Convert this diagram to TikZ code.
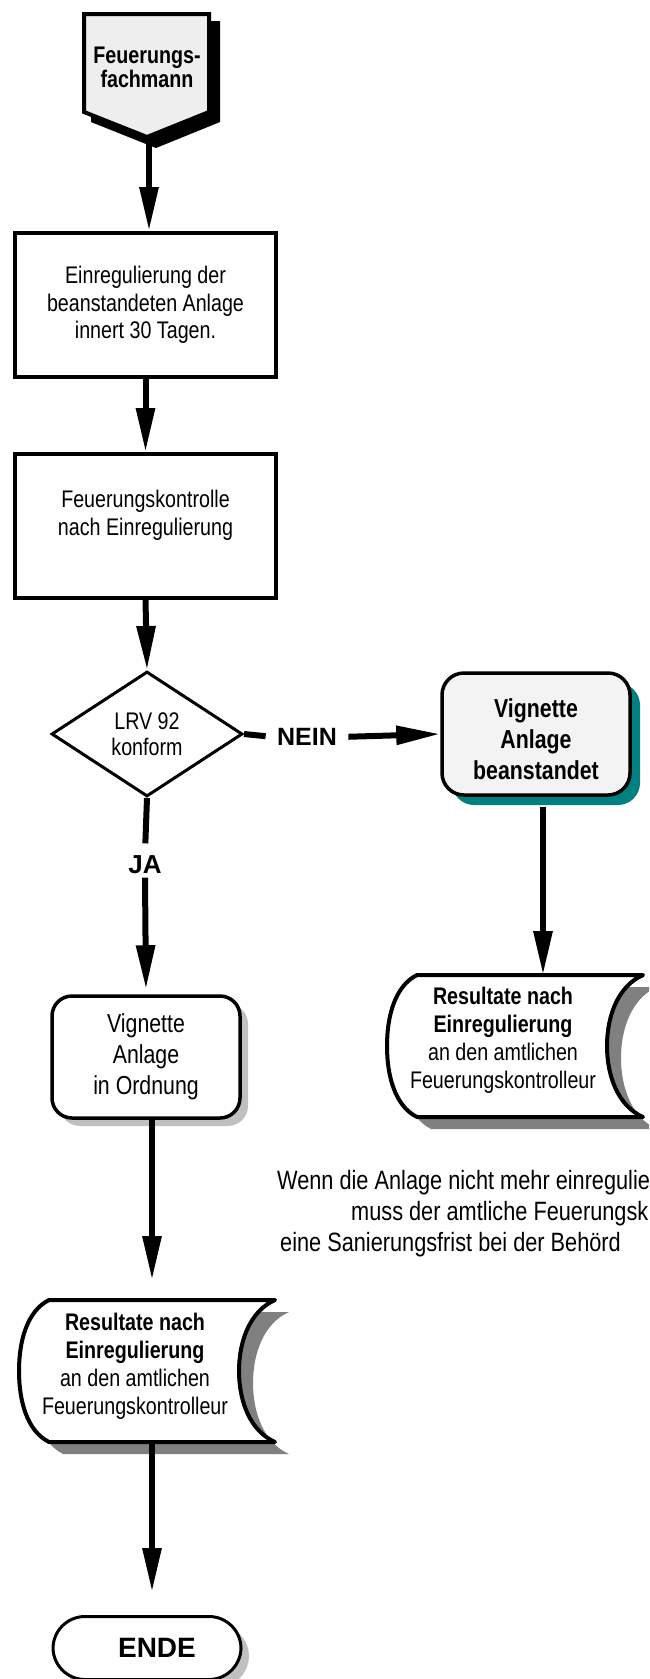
\documentclass[tikz,border=0pt]{standalone}
\usepackage{fontspec}
\setmainfont{Liberation Sans}[FakeStretch=0.82]
\newfontfamily\widefont{Liberation Sans}
\usetikzlibrary{arrows.meta,shapes.geometric,shadows,calc}
\definecolor{tealsh}{HTML}{008080}
\definecolor{beanfill}{HTML}{F3F3F3}
\definecolor{fachfill}{HTML}{EEEEEE}
\definecolor{ltgray}{HTML}{C0C0C0}
\definecolor{midgray}{HTML}{808080}
\newcommand\storedpath{(-113,-71) -- (113,-71) .. controls (88,-60) and (77,-30) .. (77,0) .. controls (77,30) and (88,60) .. (113,71) -- (-113,71) .. controls (-135,60) and (-143,30) .. (-143,0) .. controls (-143,-30) and (-135,-60) .. (-113,-71) -- cycle}
\tikzset{
  pics/stored/.style={code={
    \begin{scope}[shift={(14,12)}]
      \fill[midgray] \storedpath;
    \end{scope}
    \draw[line width=4pt, fill=white, line join=round] \storedpath;
  }},
  boxnode/.style={draw, line width=4pt, fill=white, minimum width=261pt, minimum height=144pt, inner sep=0pt, align=center},
  txt/.style={font=\fontsize{24}{27.5}\selectfont, align=center},
  arr/.style={line width=6pt, -{Triangle[length=44pt,width=18pt]}},
  stub/.style={line width=6pt},
}
\begin{document}
\begin{tikzpicture}[x=1pt,y=-1pt]
\useasboundingbox (0,0) rectangle (649,1679);
\clip (0,0) rectangle (649,1679);

% start pentagon
\fill[black] (91,21) -- (220,21) -- (220,122) -- (156,148) -- (91,122) -- cycle;
\draw[line width=4pt, fill=fachfill, line join=miter] (84,14) -- (209,14) -- (209,112) -- (147,137) -- (84,112) -- cycle;
\node[font=\bfseries\fontsize{24}{24}\selectfont, align=center] (fach) at (147,67) {Feuerungs-\\fachmann};
\coordinate (fachtip) at (149,139);

% boxes
\node[boxnode, txt] (b1) at (145.5,305) {Einregulierung der\\beanstandeten Anlage\\innert 30 Tagen.};
\node[boxnode] (b2) at (145.5,526) {};
\node[txt, font=\fontsize{24}{28}\selectfont] (b2t) at (145.5,515) {Feuerungskontrolle\\nach Einregulierung};

% decision
\node[diamond, draw, line width=3pt, fill=white, minimum width=191pt, minimum height=125pt, inner sep=0pt, align=center, font=\fontsize{24}{26}\selectfont] (d) at (147,734) {LRV 92\\konform};

\node[font=\widefont\bfseries\fontsize{25}{30}\selectfont] (nein) at (307,737) {NEIN};

\node[draw, line width=3.5pt, rounded corners=22pt, fill=beanfill, minimum width=188pt, minimum height=122pt, inner sep=0pt, drop shadow={shadow xshift=10pt, shadow yshift=-10pt, fill=tealsh, opacity=1}] (bean) at (536,734) {};
\node[align=center, font=\bfseries\fontsize{26}{31}\selectfont] (beant) at (536,739) {Vignette\\Anlage\\beanstandet};

\node[font=\widefont\bfseries\fontsize{26}{30}\selectfont] (ja) at (145,865) {JA};

\node[draw, line width=3.5pt, rounded corners=20pt, fill=white, minimum width=188pt, minimum height=122pt, inner sep=0pt, align=center, font=\fontsize{26}{31}\selectfont, drop shadow={shadow xshift=8pt, shadow yshift=-8pt, fill=ltgray, opacity=1}] (ord) at (146,1057) {Vignette\\Anlage\\in Ordnung};

% stored data shapes
\pic at (530,1046) {stored};
\node[txt, font=\fontsize{24}{28}\selectfont] (res1) at (503,1040) {\textbf{Resultate nach}\\\textbf{Einregulierung}\\an den amtlichen\\Feuerungskontrolleur};
\coordinate (res1top) at (543,975);

\pic at (162,1371) {stored};
\node[txt, font=\fontsize{24}{28}\selectfont] (res2) at (135,1366) {\textbf{Resultate nach}\\\textbf{Einregulierung}\\an den amtlichen\\Feuerungskontrolleur};
\coordinate (res2top) at (152,1280);
\coordinate (res2bot) at (152,1442);

% end terminal
\node[draw, line width=3pt, rounded corners=32pt, fill=white, minimum width=188pt, minimum height=63pt, inner sep=0pt, drop shadow={shadow xshift=8pt, shadow yshift=-8pt, fill=ltgray, opacity=1}] (ende) at (147,1648) {};
\node[font=\widefont\bfseries\fontsize{28}{30}\selectfont] (endet) at (157,1648) {ENDE};

% note text
\node[anchor=west, inner sep=0pt, font=\fontsize{26.5}{30}\selectfont] (note1) at (277,1183) {Wenn die Anlage nicht mehr einregulie};
\node[anchor=west, inner sep=0pt, font=\fontsize{26.5}{30}\selectfont] (note2) at (351,1214) {muss der amtliche Feuerungsk};
\node[anchor=west, inner sep=0pt, font=\fontsize{26.5}{30}\selectfont] (note3) at (280,1245) {eine Sanierungsfrist bei der Behörd};

% connectors
\draw[arr] (fachtip) -- (fachtip |- b1.north);
\draw[arr] (b1.south) -- (b2.north);
\draw[arr] (b2.south) -- (d.north);
\draw[stub, shorten >=8pt] (d.east) -- (nein.west);
\draw[arr, shorten <=8pt] (nein.east) -- (bean.west);
\draw[stub, shorten >=9pt] (d.south) -- (ja.north);
\draw[arr, shorten >=5pt] (ja.south) -- (ord.north);
\draw[arr, shorten <=10pt] (bean.south -| res1top) -- (res1top);
\draw[arr] (ord.south -| res2top) -- (res2top);
\draw[arr, shorten >=23pt] (res2bot) -- (res2bot |- ende.north);
\end{tikzpicture}
\end{document}
